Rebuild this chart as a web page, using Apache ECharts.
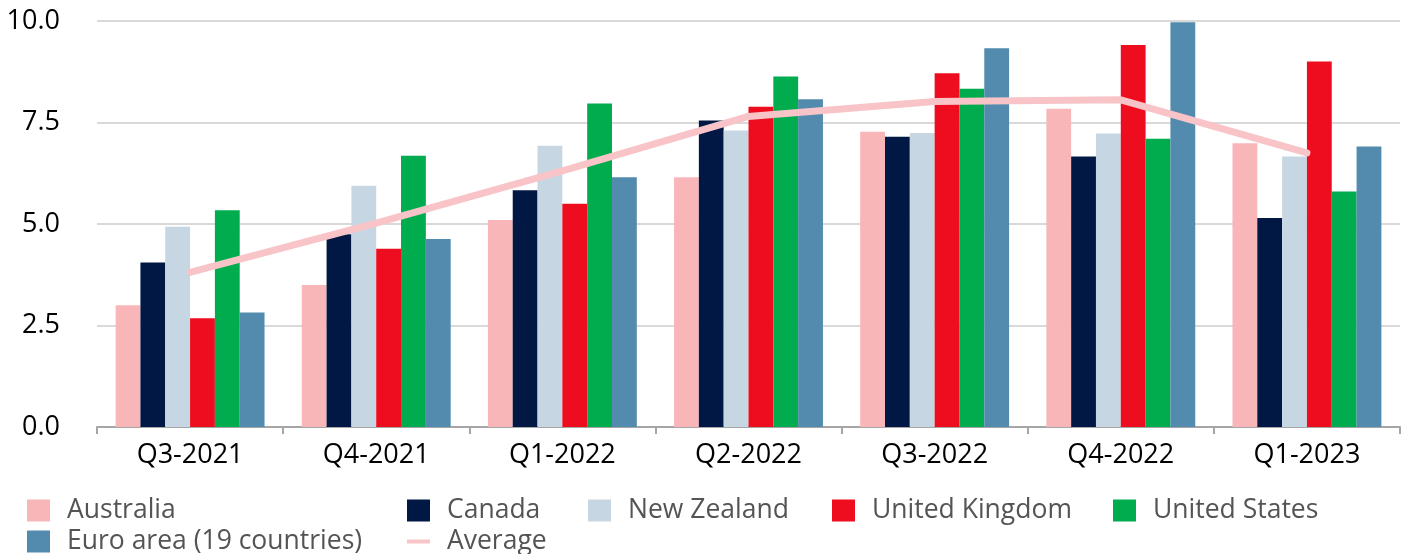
<!DOCTYPE html>
<html>
<head>
<meta charset="utf-8">
<script src="https://cdn.jsdelivr.net/npm/echarts@6/dist/echarts.min.js"></script>
<style>
  html, body { margin: 0; padding: 0; background: #fff; }
  #chart { width: 1408px; height: 554px; }
</style>
</head>
<body>
<div id="chart"></div>
<script>
const quarters = ['Q3-2021', 'Q4-2021', 'Q1-2022', 'Q2-2022', 'Q3-2022', 'Q4-2022', 'Q1-2023'];
const australia = [3.0, 3.5, 5.1, 6.15, 7.27, 7.84, 6.99];
const canada = [4.05, 4.75, 5.83, 7.55, 7.15, 6.66, 5.15];
const newZealand = [4.93, 5.94, 6.93, 7.3, 7.24, 7.23, 6.66];
const unitedKingdom = [2.68, 4.39, 5.5, 7.89, 8.71, 9.41, 9.0];
const unitedStates = [5.34, 6.68, 7.97, 8.63, 8.33, 7.1, 5.8];
const euroArea = [2.82, 4.63, 6.15, 8.07, 9.33, 9.97, 6.91];
const average = [3.81, 5.02, 6.31, 7.65, 8.02, 8.06, 6.75];
const yTicks = [0, 2.5, 5, 7.5, 10];

const font = 'Open Sans';
const chart = echarts.init(document.getElementById('chart'), null, { renderer: 'canvas' });

function legendAt(name, left, top, extra) {
    return Object.assign({
        data: [name],
        left: left,
        top: top,
        itemWidth: 23,
        itemHeight: 22,
        itemGap: 0,
        icon: 'rect',
        selectedMode: false,
        textStyle: { fontFamily: font, fontSize: 26.5, color: '#545454', padding: [0, 0, 0, 12] }
    }, extra || {});
}

function bar(name, data, color) {
    return {
        name: name,
        type: 'bar',
        data: data,
        itemStyle: { color: color },
        barGap: '0%',
        barCategoryGap: '20%'
    };
}

chart.setOption({
    animation: false,
    backgroundColor: '#fff',
    grid: { left: 97, right: 8, top: 21, bottom: 127 },
    legend: [
        legendAt('Australia', 22, 492),
        legendAt('Canada', 402, 492),
        legendAt('New Zealand', 583, 492),
        legendAt('United Kingdom', 827, 492),
        legendAt('United States', 1108, 492),
        legendAt('Euro area (19 countries)', 22, 523),
        legendAt('Average', 402, 523, { itemHeight: 4 })
    ],
    xAxis: {
        type: 'category',
        data: quarters,
        axisLine: { lineStyle: { color: '#a6a6a6', width: 2 } },
        axisTick: { show: true, length: 7, lineStyle: { color: '#a6a6a6', width: 2 } },
        axisLabel: { fontFamily: font, fontSize: 27, color: '#000', margin: 15 }
    },
    yAxis: {
        type: 'value',
        min: yTicks[0],
        max: yTicks[yTicks.length - 1],
        interval: 2.5,
        axisLine: { show: false },
        axisTick: { show: false },
        splitLine: { lineStyle: { color: '#d9d9d9', width: 2 } },
        axisLabel: {
            fontFamily: font, fontSize: 27, color: '#000', margin: 37,
            formatter: v => v.toFixed(1)
        }
    },
    series: [
        bar('Australia', australia, '#f9b6b9'),
        bar('Canada', canada, '#001843'),
        bar('New Zealand', newZealand, '#c6d7e3'),
        bar('United Kingdom', unitedKingdom, '#ee0d1f'),
        bar('United States', unitedStates, '#00ac4d'),
        bar('Euro area (19 countries)', euroArea, '#528bae'),
        {
            name: 'Average',
            type: 'line',
            data: average,
            symbol: 'none',
            itemStyle: { color: '#f8c4c7' },
            lineStyle: { color: '#f8c4c7', width: 7, cap: 'round', join: 'round' },
            z: 3
        }
    ]
});
</script>
</body>
</html>
